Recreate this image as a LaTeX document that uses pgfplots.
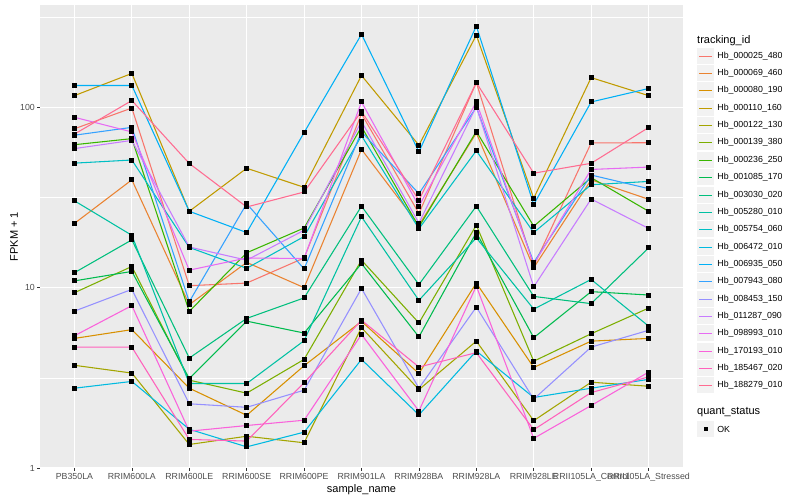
\documentclass[border=0pt]{standalone}
\usepackage{fontspec}
\setmainfont{Liberation Sans}
\usepackage{pgfplots}
\pgfplotsset{compat=1.18}

\definecolor{panelbg}{HTML}{EBEBEB}
\definecolor{keybg}{HTML}{F2F2F2}
\definecolor{ticktxt}{HTML}{4D4D4D}
\definecolor{tickln}{HTML}{333333}
% ggplot hue palette, 20 levels
\definecolor{c01}{HTML}{F8766D}
\definecolor{c02}{HTML}{EA8331}
\definecolor{c03}{HTML}{D89000}
\definecolor{c04}{HTML}{C09B00}
\definecolor{c05}{HTML}{A3A500}
\definecolor{c06}{HTML}{7CAE00}
\definecolor{c07}{HTML}{39B600}
\definecolor{c08}{HTML}{00BB4E}
\definecolor{c09}{HTML}{00BF7D}
\definecolor{c10}{HTML}{00C1A3}
\definecolor{c11}{HTML}{00BFC4}
\definecolor{c12}{HTML}{00BAE0}
\definecolor{c13}{HTML}{00B0F6}
\definecolor{c14}{HTML}{35A2FF}
\definecolor{c15}{HTML}{9590FF}
\definecolor{c16}{HTML}{C77CFF}
\definecolor{c17}{HTML}{E76BF3}
\definecolor{c18}{HTML}{FA62DB}
\definecolor{c19}{HTML}{FF62BC}
\definecolor{c20}{HTML}{FF6C91}

\pgfplotsset{
  gene/.style={color=#1, line width=1.07bp, mark=square*,
    mark size=2bp, mark options={fill=black, draw=black, line width=0pt}},
}

\begin{document}
\begin{tikzpicture}
\begin{axis}[
  set layers=standard, mark layer=axis descriptions,
  at={(40bp,32bp)}, anchor=south west,
  scale only axis, width=643bp, height=463bp,
  xmin=-0.6, xmax=10.6,
  ymode=log, ymin=1, ymax=369,
  xtick={0,...,10},
  xticklabels={PB350LA, RRIM600LA, RRIM600LE, RRIM600SE, RRIM600PE, RRIM901LA,
    RRIM928BA, RRIM928LA, RRIM928LE, RRII105LA\_Control, RRII105LA\_Stressed},
  ytick={1,10,100}, yticklabels={1,10,100},
  minor ytick={3.1623,31.623,316.23},
  xtick pos=bottom, ytick pos=left,
  xmajorgrids, ymajorgrids, yminorgrids,
  major grid style={white, line width=1.07bp},
  minor grid style={white, line width=0.53bp},
  axis line style={draw=none},
  axis background/.style={fill=panelbg},
  tick align=outside,
  major tick length=2.75bp, minor tick length=0pt,
  tick style={tickln, line width=0.53bp},
  ticklabel style={font=\fontsize{8.8bp}{10bp}\selectfont, text=ticktxt, inner sep=0pt},
  xticklabel style={yshift=-2.2bp},
  yticklabel style={xshift=-2.2bp},
  xlabel={sample\_name}, ylabel={FPKM + 1},
  every axis x label/.style={at={(axis description cs:0.5,-0.0475)}, anchor=center,
    font=\fontsize{11bp}{13bp}\selectfont},
  every axis y label/.style={at={(axis description cs:-0.0404,0.5)}, anchor=center,
    rotate=90, font=\fontsize{11bp}{13bp}\selectfont},
]
\addplot[gene=c01] coordinates {(0,76) (1,99) (2,10.25) (3,10.6) (4,14.6) (5,92) (6,25.8) (7,137) (8,13.2) (9,63.4) (10,63.6)};
\addplot[gene=c02] coordinates {(0,22.7) (1,39.6) (2,8.05) (3,13.8) (4,10.0) (5,58.4) (6,22.2) (7,72) (8,12.9) (9,39.6) (10,30.9)};
\addplot[gene=c03] coordinates {(0,5.23) (1,5.85) (2,2.77) (3,1.96) (4,3.69) (5,6.5) (6,3.34) (7,10.6) (8,3.61) (9,5.05) (10,5.23)};
\addplot[gene=c04] coordinates {(0,116) (1,154) (2,26.5) (3,45.9) (4,36.0) (5,150) (6,61.6) (7,251) (8,31.3) (9,146) (10,116)};
\addplot[gene=c05] coordinates {(0,3.71) (1,3.36) (2,1.35) (3,1.50) (4,1.38) (5,6.0) (6,2.72) (7,5.05) (8,1.83) (9,2.99) (10,2.84)};
\addplot[gene=c06] coordinates {(0,9.37) (1,13.1) (2,3.07) (3,2.60) (4,4.0) (5,14.2) (6,6.37) (7,22.2) (8,3.91) (9,5.55) (10,7.7)};
\addplot[gene=c07] coordinates {(0,62) (1,67) (2,7.38) (3,15.6) (4,21.4) (5,78) (6,21.7) (7,73.5) (8,21.9) (9,40.7) (10,26.5)};
\addplot[gene=c08] coordinates {(0,10.9) (1,12.3) (2,3.13) (3,6.52) (4,5.6) (5,13.6) (6,5.33) (7,20.2) (8,5.28) (9,9.5) (10,9.1)};
\addplot[gene=c09] coordinates {(0,12.1) (1,18.4) (2,4.07) (3,6.75) (4,8.77) (5,28.3) (6,10.4) (7,28.3) (8,8.94) (9,8.15) (10,16.6)};
\addplot[gene=c10] coordinates {(0,30.3) (1,19.5) (2,2.94) (3,2.94) (4,5.08) (5,24.7) (6,8.5) (7,18.9) (8,7.6) (9,11.1) (10,6.12)};
\addplot[gene=c11] coordinates {(0,49) (1,51) (2,16.7) (3,12.8) (4,19.2) (5,69.6) (6,21.2) (7,57.4) (8,20.2) (9,37.2) (10,38.8)};
\addplot[gene=c12] coordinates {(0,2.77) (1,3.02) (2,1.64) (3,1.31) (4,1.58) (5,4.0) (6,1.97) (7,4.45) (8,2.46) (9,2.77) (10,3.10)};
\addplot[gene=c13] coordinates {(0,132) (1,132) (2,26.5) (3,20.2) (4,72.4) (5,254) (6,56.6) (7,282) (8,28.9) (9,107) (10,127)};
\addplot[gene=c14] coordinates {(0,70) (1,77.4) (2,8.35) (3,29.2) (4,12.7) (5,73) (6,33.2) (7,100) (8,13.8) (9,42.1) (10,35.4)};
\addplot[gene=c15] coordinates {(0,7.41) (1,9.78) (2,2.27) (3,2.17) (4,2.70) (5,9.9) (6,2.77) (7,7.8) (8,2.41) (9,4.68) (10,5.8)};
\addplot[gene=c16] coordinates {(0,59) (1,65.5) (2,16.8) (3,14.2) (4,20.8) (5,83.5) (6,22.8) (7,101) (8,10.1) (9,31.0) (10,21.3)};
\addplot[gene=c17] coordinates {(0,88) (1,73) (2,12.5) (3,14.6) (4,14.5) (5,107) (6,28.3) (7,107) (8,13.5) (9,45.2) (10,46.6)};
\addplot[gene=c18] coordinates {(0,5.41) (1,7.95) (2,1.60) (3,1.72) (4,1.84) (5,5.5) (6,2.07) (7,10.2) (8,1.46) (9,2.22) (10,3.40)};
\addplot[gene=c19] coordinates {(0,4.68) (1,4.68) (2,1.44) (3,1.41) (4,2.97) (5,6.6) (6,3.63) (7,4.36) (8,1.63) (9,2.62) (10,3.2)};
\addplot[gene=c20] coordinates {(0,71) (1,109) (2,48.8) (3,28.0) (4,33.9) (5,95) (6,30.5) (7,137) (8,43.1) (9,48.9) (10,77.2)};
\end{axis}
% legends, drawn beside the panel as ggplot does
\begin{scope}[x=1bp, y=1bp]
\node[anchor=west, inner sep=0pt, font=\fontsize{11bp}{13bp}\selectfont] at (697,459.3) {tracking\_id};
\foreach \kc/\kn [count=\i from 0] in {c01/Hb\_000025\_480, c02/Hb\_000069\_460,
    c03/Hb\_000080\_190, c04/Hb\_000110\_160, c05/Hb\_000122\_130, c06/Hb\_000139\_380,
    c07/Hb\_000236\_250, c08/Hb\_001085\_170, c09/Hb\_003030\_020, c10/Hb\_005280\_010,
    c11/Hb\_005754\_060, c12/Hb\_006472\_010, c13/Hb\_006935\_050, c14/Hb\_007943\_080,
    c15/Hb\_008453\_150, c16/Hb\_011287\_090, c17/Hb\_098993\_010, c18/Hb\_170193\_010,
    c19/Hb\_185467\_020, c20/Hb\_188279\_010} {
  % snap each key line onto one pixel row
  \pgfmathsetmacro\yy{499.5-floor(56.3+17.34*\i)}
  \fill[keybg] (697,{\yy-8}) rectangle (714,{\yy+8});
  \draw[color=\kc, line width=1.07bp] (699,\yy) -- (712,\yy);
  \node[anchor=west, inner sep=0pt, font=\fontsize{8.8bp}{10bp}\selectfont] at (717.2,\yy) {\kn};
}
\node[anchor=west, inner sep=0pt, font=\fontsize{11bp}{13bp}\selectfont] at (697,87.7) {quant\_status};
\fill[keybg] (697,62.5) rectangle (714,78.5);
\fill[black] (703.5,68.5) rectangle (707.5,72.5);
\node[anchor=west, inner sep=0pt, font=\fontsize{8.8bp}{10bp}\selectfont] at (717.2,70.5) {OK};
\end{scope}
\pgfresetboundingbox
\path[use as bounding box] (0bp,0bp) rectangle (800bp,500bp);
\end{tikzpicture}
\end{document}
